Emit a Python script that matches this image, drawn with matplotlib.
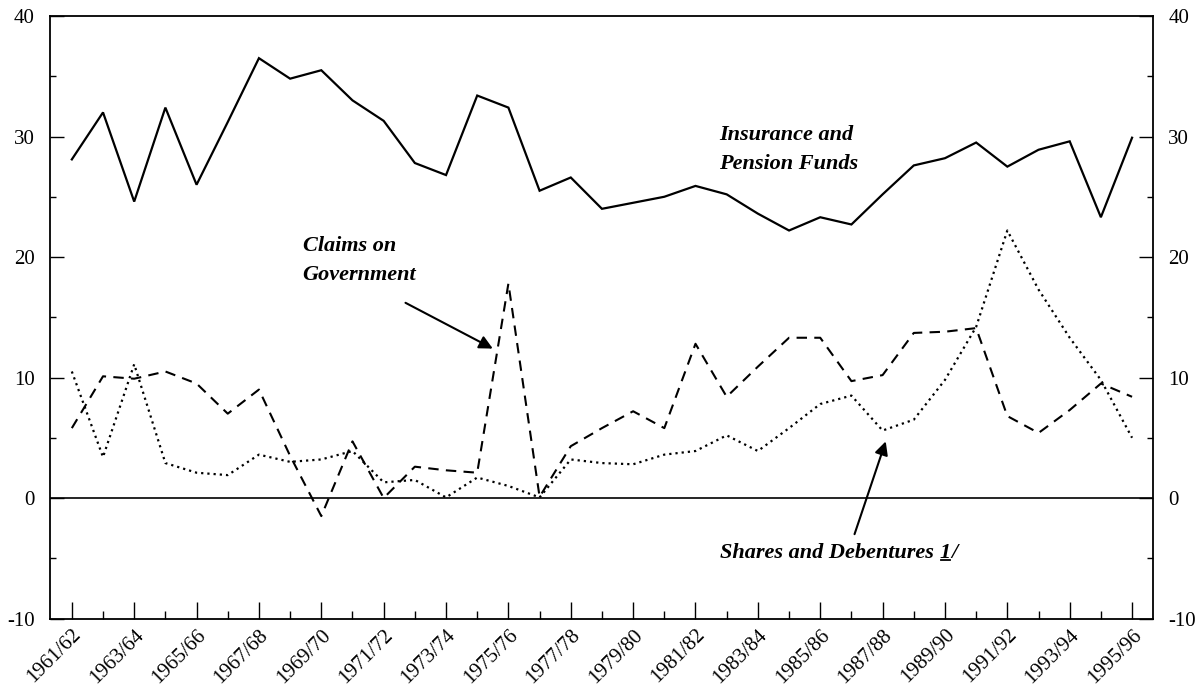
import matplotlib
matplotlib.use("Agg")
from matplotlib import pyplot as plt
from matplotlib.ticker import MultipleLocator, FixedLocator
from matplotlib.lines import Line2D

plt.rcParams['font.family'] = ['Liberation Serif', 'DejaVu Serif']
plt.rcParams['axes.unicode_minus'] = False

years = ["%d/%02d" % (y, (y + 1) % 100) for y in range(1961, 1996)]

insurance = [28.1, 32.0, 24.6, 32.4, 26.0, 31.2, 36.5, 34.8, 35.5, 33.0,
             31.3, 27.8, 26.8, 33.4, 32.4, 25.5, 26.6, 24.0, 24.5, 25.0,
             25.9, 25.2, 23.6, 22.2, 23.3, 22.7, 25.2, 27.6, 28.2, 29.5,
             27.5, 28.9, 29.6, 23.3, 29.9]
claims_gov = [5.8, 10.1, 9.9, 10.5, 9.5, 7.0, 9.0, 3.5, -1.5, 4.7,
              0.0, 2.6, 2.3, 2.1, 17.8, 0.1, 4.3, 5.8, 7.2, 5.8,
              12.8, 8.4, 10.9, 13.3, 13.3, 9.7, 10.2, 13.7, 13.8, 14.1,
              6.8, 5.4, 7.3, 9.5, 8.4]
shares = [10.5, 3.4, 11.1, 2.9, 2.1, 1.9, 3.6, 3.0, 3.2, 3.9,
          1.3, 1.5, 0.05, 1.7, 1.0, 0.05, 3.2, 2.9, 2.8, 3.6,
          3.9, 5.2, 3.9, 5.8, 7.8, 8.5, 5.6, 6.5, 9.8, 14.2,
          22.2, 17.3, 13.3, 9.8, 5.0]

x = list(range(len(years)))

fig = plt.figure(figsize=(12.02, 6.9), dpi=100)
ax = fig.add_axes([0.0416, 0.1036, 0.9176, 0.8732])

ax.plot(x, insurance, color='black', lw=1.6, solid_joinstyle='miter')
ax.plot(x, claims_gov, color='black', lw=1.5, dashes=(5, 3.5))
ax.plot(x, shares, color='black', lw=1.6, linestyle=(0, (1, 1.8)))
ax.axhline(0, color='black', lw=1.2)

ax.set_xlim(-0.7, 34.67)
ax.set_ylim(-10, 40)

# ticks
ax.xaxis.set_major_locator(FixedLocator(x[::2]))
ax.xaxis.set_minor_locator(FixedLocator(x[1::2]))
ax.set_xticklabels(years[::2], rotation=45, ha='right', rotation_mode='anchor',
                   fontsize=15)
yt = [-10, 0, 10, 20, 30, 40]
ax.set_yticks(yt)
ax.yaxis.set_minor_locator(MultipleLocator(5))
ax.set_yticklabels([str(v) for v in yt], fontsize=15)

ax.tick_params(axis='x', which='major', direction='in', length=12, width=1, pad=5)
ax.tick_params(axis='x', which='minor', direction='in', length=6, width=1)
ax.tick_params(axis='y', which='major', direction='in', length=10, width=1,
               right=True, labelright=True, pad=11)
ax.tick_params(axis='y', which='minor', direction='in', length=4, width=1, right=True)
ax.tick_params(top=False, which='both')
for s in ax.spines.values():
    s.set_linewidth(1.3)

tfont = dict(fontsize=16, fontstyle='italic', fontweight='bold')

ax.text(20.75, 28.9, "Insurance and\nPension Funds", ha='left', va='center',
        linespacing=1.6, **tfont)

ax.text(7.4, 19.7, "Claims on\nGovernment", ha='left', va='center',
        linespacing=1.6, **tfont)
ax.annotate("", xy=(13.5, 12.4), xytext=(10.7, 16.2),
            arrowprops=dict(arrowstyle='-|>', color='black', lw=1.5,
                            mutation_scale=20, shrinkA=0, shrinkB=0))

t1 = ax.text(20.8, -4.6, "Shares and Debentures", ha='left', va='center', **tfont)
t2 = ax.annotate("1", xy=(1, 0), xycoords=t1, xytext=(4, 0),
                 textcoords='offset points', ha='left', va='bottom', **tfont)
t3 = ax.annotate("/", xy=(1, 0), xycoords=t2, ha='left', va='bottom', **tfont)
ax.annotate("", xy=(26.1, 4.7), xytext=(25.1, -3.0),
            arrowprops=dict(arrowstyle='-|>', color='black', lw=1.5,
                            mutation_scale=20, shrinkA=0, shrinkB=0))

# underline the "1"
fig.canvas.draw()
r = fig.canvas.get_renderer()
bb = t2.get_window_extent(r)
inv = fig.transFigure.inverted()
(x0, y0), (x1, _) = inv.transform([(bb.x0 + 1, bb.y0 + 3), (bb.x1 - 1, bb.y0 + 3)])
fig.add_artist(Line2D([x0, x1], [y0, y0], color='black', lw=1.3,
                      transform=fig.transFigure))

fig.savefig("out.png", dpi=100)
